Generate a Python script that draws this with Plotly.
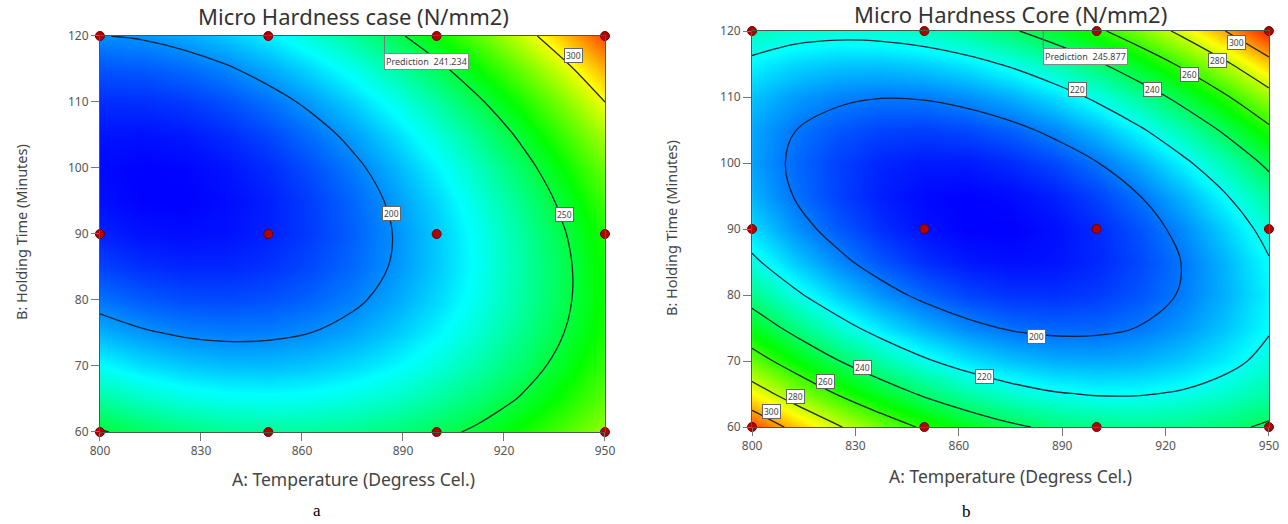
import plotly.graph_objects as go

# ---------------- data ----------------
temperature = [800, 812.5, 825, 837.5, 850, 862.5, 875, 887.5, 900, 912.5, 925, 937.5, 950]   # A
holding_time = [60, 65, 70, 75, 80, 85, 90, 95, 100, 105, 110, 115, 120]                        # B

# Micro hardness case (rows = holding time 60..120, cols = temperature 800..950)
case_hardness = [
    [251.4, 244.7, 239.7, 236.4, 234.9, 235.0, 236.9, 240.5, 245.8, 252.9, 261.7, 272.1, 284.4],
    [233.9, 227.9, 223.5, 221.0, 220.1, 221.0, 223.5, 227.8, 233.8, 241.6, 251.0, 262.2, 275.1],
    [218.8, 213.4, 209.8, 207.9, 207.7, 209.3, 212.6, 217.5, 224.2, 232.7, 242.8, 254.7, 268.3],
    [206.0, 201.4, 198.5, 197.3, 197.8, 200.0, 204.0, 209.6, 217.0, 226.2, 237.0, 249.6, 263.8],
    [195.7, 191.8, 189.5, 189.0, 190.2, 193.1, 197.8, 204.2, 212.2, 222.0, 233.6, 246.8, 261.8],
    [187.8, 184.5, 183.0, 183.2, 185.1, 188.7, 194.0, 201.1, 209.8, 220.3, 232.6, 246.5, 262.2],
    [182.3, 179.7, 178.8, 179.7, 182.3, 186.6, 192.6, 200.4, 209.8, 221.0, 233.9, 248.6, 264.9],
    [179.2, 177.3, 177.1, 178.7, 181.9, 186.9, 193.7, 202.1, 212.2, 224.1, 237.7, 253.0, 270.1],
    [178.4, 177.2, 177.8, 180.0, 184.0, 189.7, 197.1, 206.2, 217.0, 229.6, 243.9, 259.9, 277.6],
    [180.1, 179.6, 180.8, 183.8, 188.4, 194.8, 202.9, 212.7, 224.2, 237.5, 252.5, 269.2, 287.6],
    [184.2, 184.4, 186.3, 189.9, 195.3, 202.3, 211.1, 221.6, 233.8, 247.8, 263.5, 280.8, 300.0],
    [190.7, 191.6, 194.1, 198.5, 204.5, 212.3, 221.7, 232.9, 245.8, 260.5, 276.8, 294.9, 314.7],
    [199.6, 201.1, 204.4, 209.4, 216.1, 224.6, 234.8, 246.6, 260.2, 275.6, 292.6, 311.4, 331.9],
]

# Micro hardness core (rows = holding time 60..120, cols = temperature 800..950)
core_hardness = [
    [312.3, 295.8, 281.2, 268.6, 257.9, 249.2, 242.3, 237.4, 234.5, 233.5, 234.4, 237.2, 242.0],
    [288.0, 272.7, 259.2, 247.7, 238.2, 230.5, 224.8, 221.0, 219.2, 219.3, 221.3, 225.3, 231.1],
    [266.9, 252.7, 240.4, 230.0, 221.5, 215.0, 210.4, 207.8, 207.0, 208.2, 211.4, 216.5, 223.5],
    [248.9, 235.8, 224.6, 215.3, 208.0, 202.6, 199.1, 197.6, 198.0, 200.3, 204.6, 210.8, 218.9],
    [234.1, 222.0, 212.0, 203.8, 197.6, 193.3, 191.0, 190.6, 192.1, 195.5, 200.9, 208.2, 217.5],
    [222.3, 211.4, 202.5, 195.4, 190.3, 187.2, 185.9, 186.6, 189.3, 193.8, 200.3, 208.8, 219.1],
    [213.7, 203.9, 196.1, 190.2, 186.2, 184.2, 184.0, 185.9, 189.6, 195.3, 202.9, 212.5, 224.0],
    [208.2, 199.5, 192.8, 188.0, 185.2, 184.2, 185.3, 188.2, 193.1, 199.9, 208.6, 219.3, 231.9],
    [205.8, 198.3, 192.7, 189.0, 187.3, 187.5, 189.6, 193.7, 199.6, 207.6, 217.4, 229.2, 242.9],
    [206.6, 200.1, 195.7, 193.1, 192.5, 193.8, 197.1, 202.2, 209.3, 218.4, 229.4, 242.3, 257.1],
    [210.4, 205.1, 201.8, 200.3, 200.8, 203.3, 207.6, 213.9, 222.2, 232.3, 244.4, 258.5, 274.4],
    [217.4, 213.2, 211.0, 210.7, 212.3, 215.9, 221.4, 228.8, 238.1, 249.4, 262.6, 277.8, 294.9],
    [227.5, 224.5, 223.4, 224.2, 226.9, 231.6, 238.2, 246.7, 257.2, 269.6, 283.9, 300.2, 318.4],
]

case_levels = [200, 250, 300]
core_levels = [200, 220, 240, 260, 280, 300]

design_temp = [800, 850, 900, 950, 800, 850, 900, 950, 800, 850, 900, 950]
design_time = [60, 60, 60, 60, 90, 90, 90, 90, 120, 120, 120, 120]

pred_temp = 884.5
pred_time = 120
case_prediction = 241.234
core_prediction = 245.877

x_ticks = [800, 830, 860, 890, 920, 950]
y_ticks = [60, 70, 80, 90, 100, 110, 120]

# ---------------- styling ----------------
FONT = "Noto Sans"
rainbow = [[0.0, "rgb(0,0,255)"], [0.25, "rgb(0,255,255)"], [0.5, "rgb(0,255,0)"],
           [0.75, "rgb(255,255,0)"], [1.0, "rgb(255,0,0)"]]
line_col = "rgba(20,30,45,0.95)"

fig = go.Figure()


def add_panel(z, levels, xa, ya, zrange):
    fig.add_trace(go.Contour(
        x=temperature, y=holding_time, z=z,
        colorscale=rainbow, showscale=False, zmin=zrange[0], zmax=zrange[1],
        contours=dict(start=levels[0], end=levels[-1], size=levels[1] - levels[0],
                      coloring="heatmap", showlabels=False),
        line=dict(color=line_col, width=1.3, smoothing=1.0),
        xaxis=xa, yaxis=ya, hoverinfo="skip"))
    fig.add_trace(go.Scatter(
        x=design_temp, y=design_time, mode="markers",
        marker=dict(color="#b00000", size=9, line=dict(color="#6a0000", width=1)),
        cliponaxis=False, xaxis=xa, yaxis=ya, hoverinfo="skip"))


add_panel(case_hardness, case_levels, "x", "y", (177, 343))
add_panel(core_hardness, core_levels, "x2", "y2", (184, 322))

axis_common = dict(showline=True, mirror=True, linecolor="#4a5a4a", linewidth=1,
                   ticks="outside", ticklen=8, tickcolor="#777",
                   tickfont=dict(family=FONT, size=12, color="#555"),
                   showgrid=False, zeroline=False, automargin=False)

fig.update_layout(
    width=1288, height=524,
    margin=dict(l=0, r=0, t=0, b=0, pad=0, autoexpand=False),
    paper_bgcolor="white", plot_bgcolor="white", showlegend=False,
    xaxis=dict(domain=[0.0776, 0.4697], range=[800, 950], tickvals=x_ticks, anchor="y", **axis_common),
    yaxis=dict(domain=[0.1756, 0.9313], range=[60, 120], tickvals=y_ticks, anchor="x", **axis_common),
    xaxis2=dict(domain=[0.5839, 0.9852], range=[800, 950], tickvals=x_ticks, anchor="y2", **axis_common),
    yaxis2=dict(domain=[0.1851, 0.9408], range=[60, 120], tickvals=y_ticks, anchor="x2", **axis_common),
)

ann = []


def paper_text(text, x, y, size, color="#333", family=FONT, angle=0):
    ann.append(dict(text=text, x=x / 1288, y=1 - y / 524, xref="paper", yref="paper",
                    showarrow=False, textangle=angle, xanchor="center", yanchor="middle",
                    font=dict(family=family, size=size, color=color)))


paper_text("Micro Hardness case (N/mm2)", 353, 16, 22)
paper_text("Micro Hardness Core (N/mm2)", 1010, 14, 22)
paper_text("A: Temperature (Degress Cel.)", 353, 479, 17.5, "#444")
paper_text("A: Temperature (Degress Cel.)", 1010, 476, 17.5, "#444")
paper_text("B: Holding Time (Minutes)", 21, 232, 14.5, "#444", angle=-90)
paper_text("B: Holding Time (Minutes)", 671, 228, 14.5, "#444", angle=-90)
paper_text("a", 317, 510, 17, "#000", "Liberation Serif")
paper_text("b", 966, 511, 17, "#000", "Liberation Serif")


def level_label(level, x, y, xr, yr):
    ann.append(dict(text=str(level), x=x, y=y, xref=xr, yref=yr, showarrow=False,
                    bgcolor="white", bordercolor="#666", borderwidth=1, borderpad=1,
                    font=dict(family=FONT, size=8.5, color="#444")))


level_label(case_levels[0], 886.6, 93.1, "x", "y")
level_label(case_levels[1], 937.9, 93.0, "x", "y")
level_label(case_levels[2], 940.6, 117.0, "x", "y")

core_label_pos = {200: [(882.5, 73.7)],
                  220: [(867.4, 67.6), (894.3, 111.1)],
                  240: [(832.1, 69.0), (916.3, 111.1)],
                  260: [(821.4, 66.9), (927.0, 113.4)],
                  280: [(812.7, 64.6), (935.2, 115.6)],
                  300: [(805.7, 62.4), (940.5, 118.3)]}
for lev in core_levels:
    for (px, py) in core_label_pos[lev]:
        level_label(lev, px, py, "x2", "y2")


def prediction_flag(value, xr, yr):
    ann.append(dict(text="Prediction  %.3f" % value, x=pred_temp, y=pred_time, xref=xr, yref=yr,
                    showarrow=True, arrowhead=0, arrowwidth=1, arrowcolor="#777",
                    ax=0, ay=17, xanchor="left", yanchor="top",
                    bgcolor="white", bordercolor="#888", borderwidth=1, borderpad=1,
                    font=dict(family=FONT, size=9, color="#444")))


prediction_flag(case_prediction, "x", "y")
prediction_flag(core_prediction, "x2", "y2")

fig.update_layout(annotations=ann)
fig.write_html("out.html", config={"displayModeBar": False},
               post_script="document.body.style.margin='0px';document.body.style.overflow='hidden';")
